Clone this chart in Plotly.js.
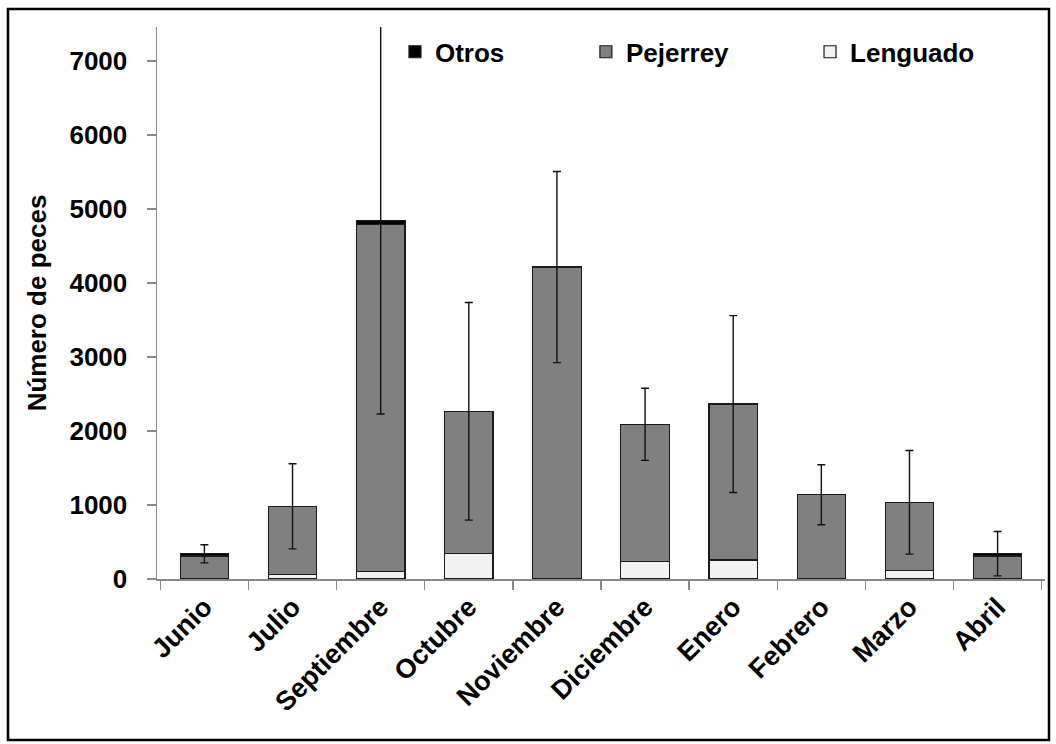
<!DOCTYPE html>
<html>
<head>
<meta charset="utf-8">
<script src="https://cdn.plot.ly/plotly-3.0.1.min.js"></script>
<style>html,body{margin:0;padding:0;background:#fff;}#chart{width:1056px;height:744px;}</style>
</head>
<body>
<div id="chart"></div>
<script>
const months = ["Junio","Julio","Septiembre","Octubre","Noviembre","Diciembre","Enero","Febrero","Marzo","Abril"];
const lenguado = [5, 63, 104, 342, 0, 239, 257, 0, 117, 8];
const pejerrey = [305, 919, 4690, 1924, 4216, 1851, 2108, 1139, 919, 304];
const otros = [30, 0, 55, 0, 0, 0, 0, 0, 0, 30];
const errorTotal = [122, 575, 2620, 1470, 1292, 487, 1195, 405, 700, 300];
const yTickVals = [0, 1000, 2000, 3000, 4000, 5000, 6000, 7000];

const totals = months.map((m, i) => lenguado[i] + pejerrey[i] + otros[i]);

const FONT = "Liberation Sans, Arial, sans-serif";
const lineStyle = {color: "#1a1a1a", width: 1.2};

const traces = [
  {type: "bar", name: "Lenguado", x: months, y: lenguado, legend: "legend3",
   marker: {color: "#f2f2f2", line: lineStyle}, hoverinfo: "y+name"},
  {type: "bar", name: "Pejerrey", x: months, y: pejerrey, legend: "legend2",
   marker: {color: "#808080", line: lineStyle}, hoverinfo: "y+name"},
  {type: "bar", name: "Otros", x: months, y: otros, legend: "legend",
   marker: {color: "#000000", line: lineStyle}, hoverinfo: "y+name"},
  {type: "scatter", mode: "markers", x: months, y: totals, showlegend: false,
   marker: {size: 0.1, color: "rgba(0,0,0,0)"}, hoverinfo: "skip",
   error_y: {type: "data", array: errorTotal, visible: true, color: "#111", thickness: 1.4, width: 4}}
];

const legendFont = {family: FONT, size: 26, color: "#000", weight: "bold"};
const legendBase = {orientation: "h", yanchor: "middle", y: 0.955, xanchor: "left",
  font: legendFont, bgcolor: "rgba(0,0,0,0)", borderwidth: 0, itemclick: false};

const layout = {
  width: 1056, height: 744,
  margin: {l: 157, r: 11, t: 27, b: 165},
  paper_bgcolor: "#fff", plot_bgcolor: "#fff",
  barmode: "stack", bargap: 0.45,
  font: {family: FONT, color: "#000"},
  xaxis: {
    type: "category", showline: true, linecolor: "#898989", linewidth: 1.5,
    ticks: "outside", tickson: "boundaries", ticklen: 9, tickcolor: "#898989", tickwidth: 1.5,
    tickangle: -45, tickfont: {family: FONT, size: 27, color: "#000", weight: "bold"},
    showgrid: false, zeroline: false, fixedrange: true
  },
  yaxis: {
    range: [0, 7460], tickvals: yTickVals, ticktext: yTickVals.map(String),
    showline: true, linecolor: "#898989", linewidth: 1.5,
    ticks: "outside", ticklen: 9, tickcolor: "#898989", tickwidth: 1.5,
    ticklabelstandoff: 14,
    tickfont: {family: FONT, size: 26, color: "#000", weight: "bold"},
    showgrid: false, zeroline: false, fixedrange: true,
    title: {text: "Número de peces", font: {family: FONT, size: 26, color: "#000", weight: "bold"}, standoff: 15}
  },
  legend: Object.assign({}, legendBase, {x: 0.268}),
  legend2: Object.assign({}, legendBase, {x: 0.483}),
  legend3: Object.assign({}, legendBase, {x: 0.7354}),
  shapes: [{type: "rect", xref: "paper", yref: "paper",
    x0: -0.1678, x1: 1.0045, y0: -0.2917, y1: 1.0326,
    line: {color: "#000", width: 2.5}, fillcolor: "rgba(0,0,0,0)", layer: "below"}],
  showlegend: true
};

Plotly.newPlot("chart", traces, layout, {displayModeBar: false, staticPlot: true});
</script>
</body>
</html>
